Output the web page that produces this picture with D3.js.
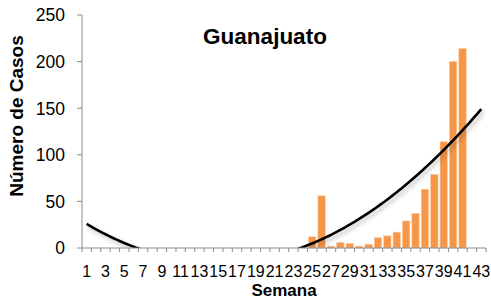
<!DOCTYPE html>
<html>
<head>
<meta charset="utf-8">
<script src="https://cdn.jsdelivr.net/npm/d3@7"></script>
<style>
  body { margin: 0; background: #fff; }
  text { font-family: "Liberation Sans", Arial, sans-serif; }
</style>
</head>
<body>
<div id="canvas"></div>
<script>
"use strict"

/* Data: cases per week (weeks 1..43, last two weeks without data) */
let weeks = d3.range(1, 44);
let cases = [0, 0, 0, 0, 0, 0, 0, 0, 0, 0,
             0, 0, 0, 0, 0, 0, 0, 0, 0, 0,
             0, 0, 0, 0, 12, 56, 2, 6, 5, 2,
             4, 11, 13, 17, 29, 37, 63, 79, 114, 200,
             214, null, null];
let yTicks = [0, 50, 100, 150, 200, 250];
let xTickLabels = weeks.filter(function (w) { return w % 2 == 1; });

/* Configuration variables: drawing */
let svgWidth = 491;
let svgHeight = 300;
let plotLeft = 82;
let plotRight = 486;
let plotTop = 15;
let plotBottom = 248;
let axisColor = "#8c8c8c";

let svg = d3.select("#canvas")
    .append("svg")
    .attr("width", svgWidth)
    .attr("height", svgHeight);

let xScale = d3.scaleBand()
    .domain(weeks)
    .range([plotLeft, plotRight])
    .paddingInner(0.22)
    .paddingOuter(0.11);

let yScale = d3.scaleLinear()
    .domain([0, 250])
    .range([plotBottom, plotTop]);

/* Shadow filter for trend line */
let defs = svg.append("defs");
let filt = defs.append("filter")
    .attr("id", "shadow")
    .attr("x", "-10%").attr("y", "-10%")
    .attr("width", "120%").attr("height", "130%");
filt.append("feDropShadow")
    .attr("dx", 2).attr("dy", 3)
    .attr("stdDeviation", 2)
    .attr("flood-color", "#000")
    .attr("flood-opacity", 0.25);

defs.append("clipPath")
    .attr("id", "plotclip")
    .append("rect")
    .attr("x", plotLeft)
    .attr("y", plotTop)
    .attr("width", plotRight - plotLeft)
    .attr("height", plotBottom - plotTop);

/* Bars */
let barData = weeks.filter(function (w, i) { return cases[i] != null; });
svg.selectAll("rect.bar")
    .data(barData)
    .join("rect")
    .attr("class", "bar")
    .attr("x", function (w) { return xScale(w); })
    .attr("width", xScale.bandwidth())
    .attr("y", function (w) { return yScale(cases[w - 1]); })
    .attr("height", function (w) { return plotBottom - yScale(cases[w - 1]); })
    .attr("fill", "#f79646")
    .attr("stroke", "#fbc8a0")
    .attr("stroke-width", 0.6);

/* Polynomial (order 2) trend line, least squares fit on the data */
function polyFit(xs, ys) {
    let s = [0, 0, 0, 0, 0], t = [0, 0, 0];
    for (let i = 0; i < xs.length; i++) {
        let x = xs[i], p = 1;
        for (let k = 0; k < 5; k++) {
            s[k] += p;
            if (k < 3) t[k] += p * ys[i];
            p *= x;
        }
    }
    let m = [[s[0], s[1], s[2], t[0]],
             [s[1], s[2], s[3], t[1]],
             [s[2], s[3], s[4], t[2]]];
    for (let c = 0; c < 3; c++) {
        for (let r = c + 1; r < 3; r++) {
            let f = m[r][c] / m[c][c];
            for (let k = c; k < 4; k++) m[r][k] -= f * m[c][k];
        }
    }
    let coef = [0, 0, 0];
    for (let r = 2; r >= 0; r--) {
        let v = m[r][3];
        for (let k = r + 1; k < 3; k++) v -= m[r][k] * coef[k];
        coef[r] = v / m[r][r];
    }
    return coef;
}

let coef = polyFit(barData, barData.map(function (w) { return cases[w - 1]; }));
let trendPts = d3.range(1, 43.01, 0.25).map(function (x) {
    return [x, coef[0] + coef[1] * x + coef[2] * x * x];
});

let xLin = d3.scaleLinear()
    .domain([1, 43])
    .range([xScale(1) + xScale.bandwidth() / 2, xScale(43) + xScale.bandwidth() / 2]);

let line = d3.line()
    .x(function (d) { return xLin(d[0]); })
    .y(function (d) { return yScale(d[1]); });

svg.append("g")
    .attr("clip-path", "url(#plotclip)")
    .append("path")
    .datum(trendPts)
    .attr("d", line)
    .attr("fill", "none")
    .attr("stroke", "#000")
    .attr("stroke-width", 2.6)
    .attr("filter", "url(#shadow)");

/* Y axis */
svg.append("line")
    .attr("x1", plotLeft).attr("x2", plotLeft)
    .attr("y1", plotTop).attr("y2", plotBottom)
    .attr("stroke", axisColor);

svg.selectAll("line.ytick")
    .data(yTicks)
    .join("line")
    .attr("class", "ytick")
    .attr("x1", plotLeft - 5).attr("x2", plotLeft)
    .attr("y1", function (d) { return yScale(d); })
    .attr("y2", function (d) { return yScale(d); })
    .attr("stroke", axisColor);

svg.selectAll("text.ylab")
    .data(yTicks)
    .join("text")
    .attr("class", "ylab")
    .attr("x", 65)
    .attr("y", function (d) { return yScale(d); })
    .attr("dy", "0.36em")
    .attr("text-anchor", "end")
    .attr("font-size", 17.5)
    .attr("fill", "#000")
    .text(function (d) { return d; });

/* X axis */
svg.append("line")
    .attr("x1", plotLeft).attr("x2", plotRight)
    .attr("y1", plotBottom).attr("y2", plotBottom)
    .attr("stroke", axisColor);

let boundaries = weeks.map(function (w) { return xScale(w) - xScale.step() * xScale.paddingInner() / 2; });
boundaries.push(plotRight);
svg.selectAll("line.xtick")
    .data(boundaries)
    .join("line")
    .attr("class", "xtick")
    .attr("x1", function (d) { return d; })
    .attr("x2", function (d) { return d; })
    .attr("y1", plotBottom).attr("y2", plotBottom + 4)
    .attr("stroke", axisColor);

svg.selectAll("text.xlab")
    .data(xTickLabels)
    .join("text")
    .attr("class", "xlab")
    .attr("x", function (w) { return xScale(w) + xScale.bandwidth() / 2; })
    .attr("y", 277)
    .attr("text-anchor", "middle")
    .attr("font-size", 16)
    .attr("fill", "#000")
    .text(function (w) { return w; });

/* Titles */
svg.append("text")
    .attr("x", 265)
    .attr("y", 44)
    .attr("text-anchor", "middle")
    .attr("font-size", 22.5)
    .attr("font-weight", "bold")
    .text("Guanajuato");

svg.append("text")
    .attr("x", 284)
    .attr("y", 295.5)
    .attr("text-anchor", "middle")
    .attr("font-size", 17)
    .attr("font-weight", "bold")
    .text("Semana");

svg.append("text")
    .attr("transform", "translate(23,116) rotate(-90)")
    .attr("text-anchor", "middle")
    .attr("font-size", 19)
    .attr("font-weight", "bold")
    .text("Número de Casos");
</script>
</body>
</html>
